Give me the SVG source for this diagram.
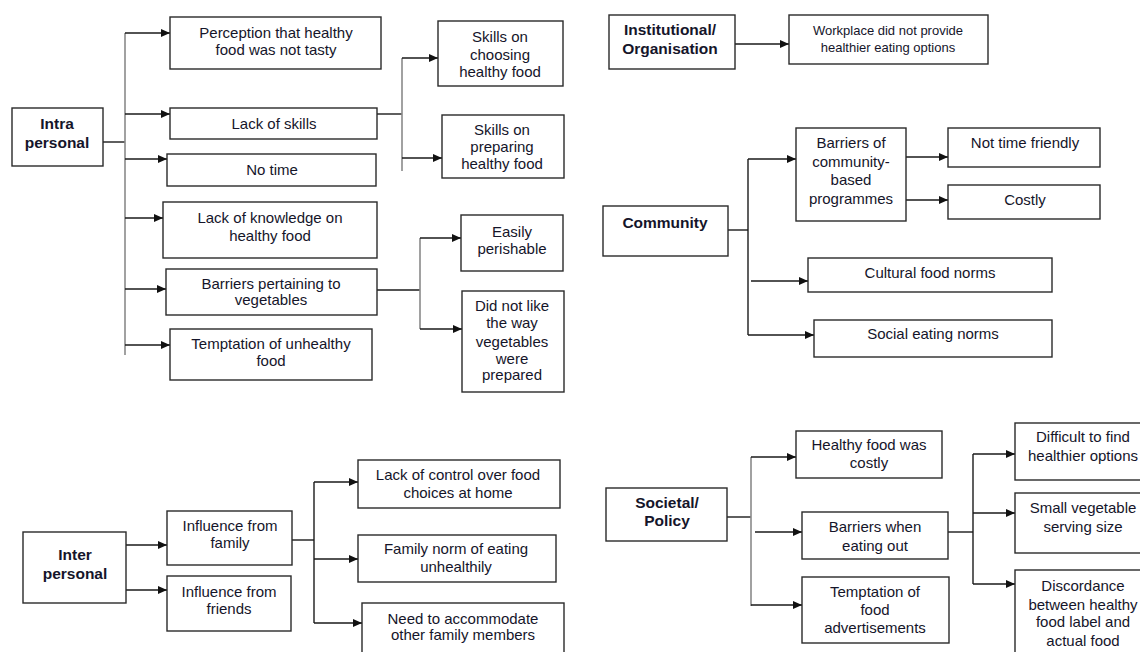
<svg xmlns="http://www.w3.org/2000/svg" width="1140" height="652" viewBox="0 0 1140 652">
<style>
.b{fill:#fff;stroke:#2a2a2a;stroke-width:1.4}
.t{font-family:"Liberation Sans",Arial,sans-serif;font-size:15px;fill:#15152a;text-anchor:middle}
.h{font-family:"Liberation Sans",Arial,sans-serif;font-size:15.5px;font-weight:bold;fill:#15152a;text-anchor:middle}
.s{font-size:13px}
.c path{fill:none;stroke:#1a1a1a;stroke-width:1.4}
.c path.g{stroke:#8a8a8a;stroke-width:1.6}
.c path.a{marker-end:url(#arr)}
</style>
<defs>
<marker id="arr" markerUnits="userSpaceOnUse" markerWidth="9" markerHeight="8" refX="9" refY="4" orient="auto">
<path d="M0,0 L9,4 L0,8 z" fill="#111"/>
</marker>
</defs>
<rect width="1140" height="652" fill="#fff"/>
<g class="c" id="connectors">
<path d="M103,142 H125"/>
<path class="g" d="M125,33 V355"/>
<path class="a" d="M125,33 H170"/>
<path class="a" d="M125,114 H170"/>
<path class="a" d="M125,159 H167"/>
<path class="a" d="M125,218 H163"/>
<path class="a" d="M125,289 H166"/>
<path class="a" d="M125,345 H170"/>
<path d="M377,114 H402"/>
<path class="g" d="M402,58 V171"/>
<path class="a" d="M402,58 H438"/>
<path class="a" d="M402,158 H442"/>
<path d="M377,290 H420"/>
<path class="g" d="M420,238 V329"/>
<path class="a" d="M420,238 H461"/>
<path class="a" d="M420,329 H462"/>
<path class="a" d="M735,44 H789"/>
<path d="M728,230 H748"/>
<path d="M748,159 V335"/>
<path class="a" d="M748,159 H796"/>
<path class="a" d="M751,281 H808"/>
<path class="a" d="M748,335 H814"/>
<path class="a" d="M906,157 H948"/>
<path class="a" d="M906,200 H948"/>
<path class="a" d="M126,545 H167"/>
<path class="a" d="M126,590 H167"/>
<path d="M292,540 H314"/>
<path d="M314,482 V623"/>
<path class="a" d="M314,482 H358"/>
<path class="a" d="M314,559 H358"/>
<path class="a" d="M314,623 H362"/>
<path d="M727,517 H751"/>
<path class="g" d="M751,457 V606"/>
<path class="a" d="M751,457 H796"/>
<path class="a" d="M755,532 H802"/>
<path class="a" d="M751,605 H802"/>
<path d="M948,532 H973"/>
<path d="M973,454 V584"/>
<path class="a" d="M973,454 H1015"/>
<path class="a" d="M973,513 H1015"/>
<path class="a" d="M973,584 H1015"/>
</g>
<g id="intra"><rect class="b" x="12" y="108" width="91" height="58"/><text class="h" x="57" y="129">Intra</text><text class="h" x="57" y="148">personal</text></g>
<g id="perception"><rect class="b" x="170" y="17" width="211" height="52"/><text class="t" x="276" y="38">Perception that healthy</text><text class="t" x="276" y="55">food was not tasty</text></g>
<g id="lackskills"><rect class="b" x="170" y="108" width="207" height="31"/><text class="t" x="274" y="129">Lack of skills</text></g>
<g id="notime"><rect class="b" x="167" y="154" width="209" height="32"/><text class="t" x="272" y="175">No time</text></g>
<g id="choosing"><rect class="b" x="438" y="21" width="125" height="65"/><text class="t" x="500" y="42">Skills on</text><text class="t" x="500" y="60">choosing</text><text class="t" x="500" y="77">healthy food</text></g>
<g id="preparing"><rect class="b" x="442" y="115" width="122" height="63"/><text class="t" x="502" y="135">Skills on</text><text class="t" x="502" y="152">preparing</text><text class="t" x="502" y="169">healthy food</text></g>
<g id="knowledge"><rect class="b" x="163" y="202" width="214" height="56"/><text class="t" x="270" y="223">Lack of knowledge on</text><text class="t" x="270" y="241">healthy food</text></g>
<g id="vegbarriers"><rect class="b" x="166" y="269" width="211" height="46"/><text class="t" x="271" y="289">Barriers pertaining to</text><text class="t" x="271" y="305">vegetables</text></g>
<g id="temptation"><rect class="b" x="170" y="329" width="202" height="51"/><text class="t" x="271" y="349">Temptation of unhealthy</text><text class="t" x="271" y="366">food</text></g>
<g id="perishable"><rect class="b" x="461" y="215" width="102" height="56"/><text class="t" x="512" y="237">Easily</text><text class="t" x="512" y="254">perishable</text></g>
<g id="dislike"><rect class="b" x="462" y="291" width="102" height="101"/><text class="t" x="512" y="311">Did not like</text><text class="t" x="512" y="328">the way</text><text class="t" x="512" y="347">vegetables</text><text class="t" x="512" y="364">were</text><text class="t" x="512" y="380">prepared</text></g>
<g id="institutional"><rect class="b" x="609" y="15" width="126" height="54"/><text class="h" x="670" y="35">Institutional/</text><text class="h" x="670" y="54">Organisation</text></g>
<g id="workplace"><rect class="b" x="789" y="15" width="199" height="49"/><text class="t s" x="888" y="35">Workplace did not provide</text><text class="t s" x="888" y="52">healthier eating options</text></g>
<g id="community"><rect class="b" x="603" y="206" width="125" height="50"/><text class="h" x="665" y="228">Community</text></g>
<g id="cbp"><rect class="b" x="796" y="128" width="110" height="93"/><text class="t" x="851" y="148">Barriers of</text><text class="t" x="851" y="167">community-</text><text class="t" x="851" y="185">based</text><text class="t" x="851" y="204">programmes</text></g>
<g id="nottime"><rect class="b" x="948" y="128" width="152" height="39"/><text class="t" x="1025" y="148">Not time friendly</text></g>
<g id="costly"><rect class="b" x="948" y="185" width="152" height="34"/><text class="t" x="1025" y="205">Costly</text></g>
<g id="cultural"><rect class="b" x="808" y="258" width="244" height="34"/><text class="t" x="930" y="278">Cultural food norms</text></g>
<g id="social"><rect class="b" x="814" y="320" width="238" height="37"/><text class="t" x="933" y="339">Social eating norms</text></g>
<g id="inter"><rect class="b" x="23" y="532" width="103" height="71"/><text class="h" x="75" y="560">Inter</text><text class="h" x="75" y="579">personal</text></g>
<g id="family"><rect class="b" x="167" y="511" width="125" height="54"/><text class="t" x="230" y="531">Influence from</text><text class="t" x="230" y="548">family</text></g>
<g id="friends"><rect class="b" x="167" y="576" width="124" height="55"/><text class="t" x="229" y="597">Influence from</text><text class="t" x="229" y="614">friends</text></g>
<g id="control"><rect class="b" x="358" y="460" width="202" height="48"/><text class="t" x="458" y="480">Lack of control over food</text><text class="t" x="458" y="498">choices at home</text></g>
<g id="familynorm"><rect class="b" x="358" y="535" width="198" height="47"/><text class="t" x="456" y="554">Family norm of eating</text><text class="t" x="456" y="572">unhealthily</text></g>
<g id="accommodate"><rect class="b" x="362" y="603" width="202" height="60"/><text class="t" x="463" y="624">Need to accommodate</text><text class="t" x="463" y="640">other family members</text></g>
<g id="societal"><rect class="b" x="606" y="488" width="121" height="53"/><text class="h" x="667" y="508">Societal/</text><text class="h" x="667" y="526">Policy</text></g>
<g id="hfcostly"><rect class="b" x="796" y="431" width="146" height="47"/><text class="t" x="869" y="450">Healthy food was</text><text class="t" x="869" y="468">costly</text></g>
<g id="eatingout"><rect class="b" x="802" y="512" width="146" height="47"/><text class="t" x="875" y="532">Barriers when</text><text class="t" x="875" y="551">eating out</text></g>
<g id="ads"><rect class="b" x="802" y="577" width="147" height="66"/><text class="t" x="875" y="597">Temptation of</text><text class="t" x="875" y="615">food</text><text class="t" x="875" y="633">advertisements</text></g>
<g id="difficult"><rect class="b" x="1015" y="423" width="130" height="57"/><text class="t" x="1083" y="442">Difficult to find</text><text class="t" x="1083" y="461">healthier options</text></g>
<g id="smallveg"><rect class="b" x="1015" y="493" width="130" height="60"/><text class="t" x="1083" y="513">Small vegetable</text><text class="t" x="1083" y="532">serving size</text></g>
<g id="discordance"><rect class="b" x="1015" y="570" width="130" height="95"/><text class="t" x="1083" y="591">Discordance</text><text class="t" x="1083" y="610">between healthy</text><text class="t" x="1083" y="627">food label and</text><text class="t" x="1083" y="646">actual food</text></g>
</svg>
